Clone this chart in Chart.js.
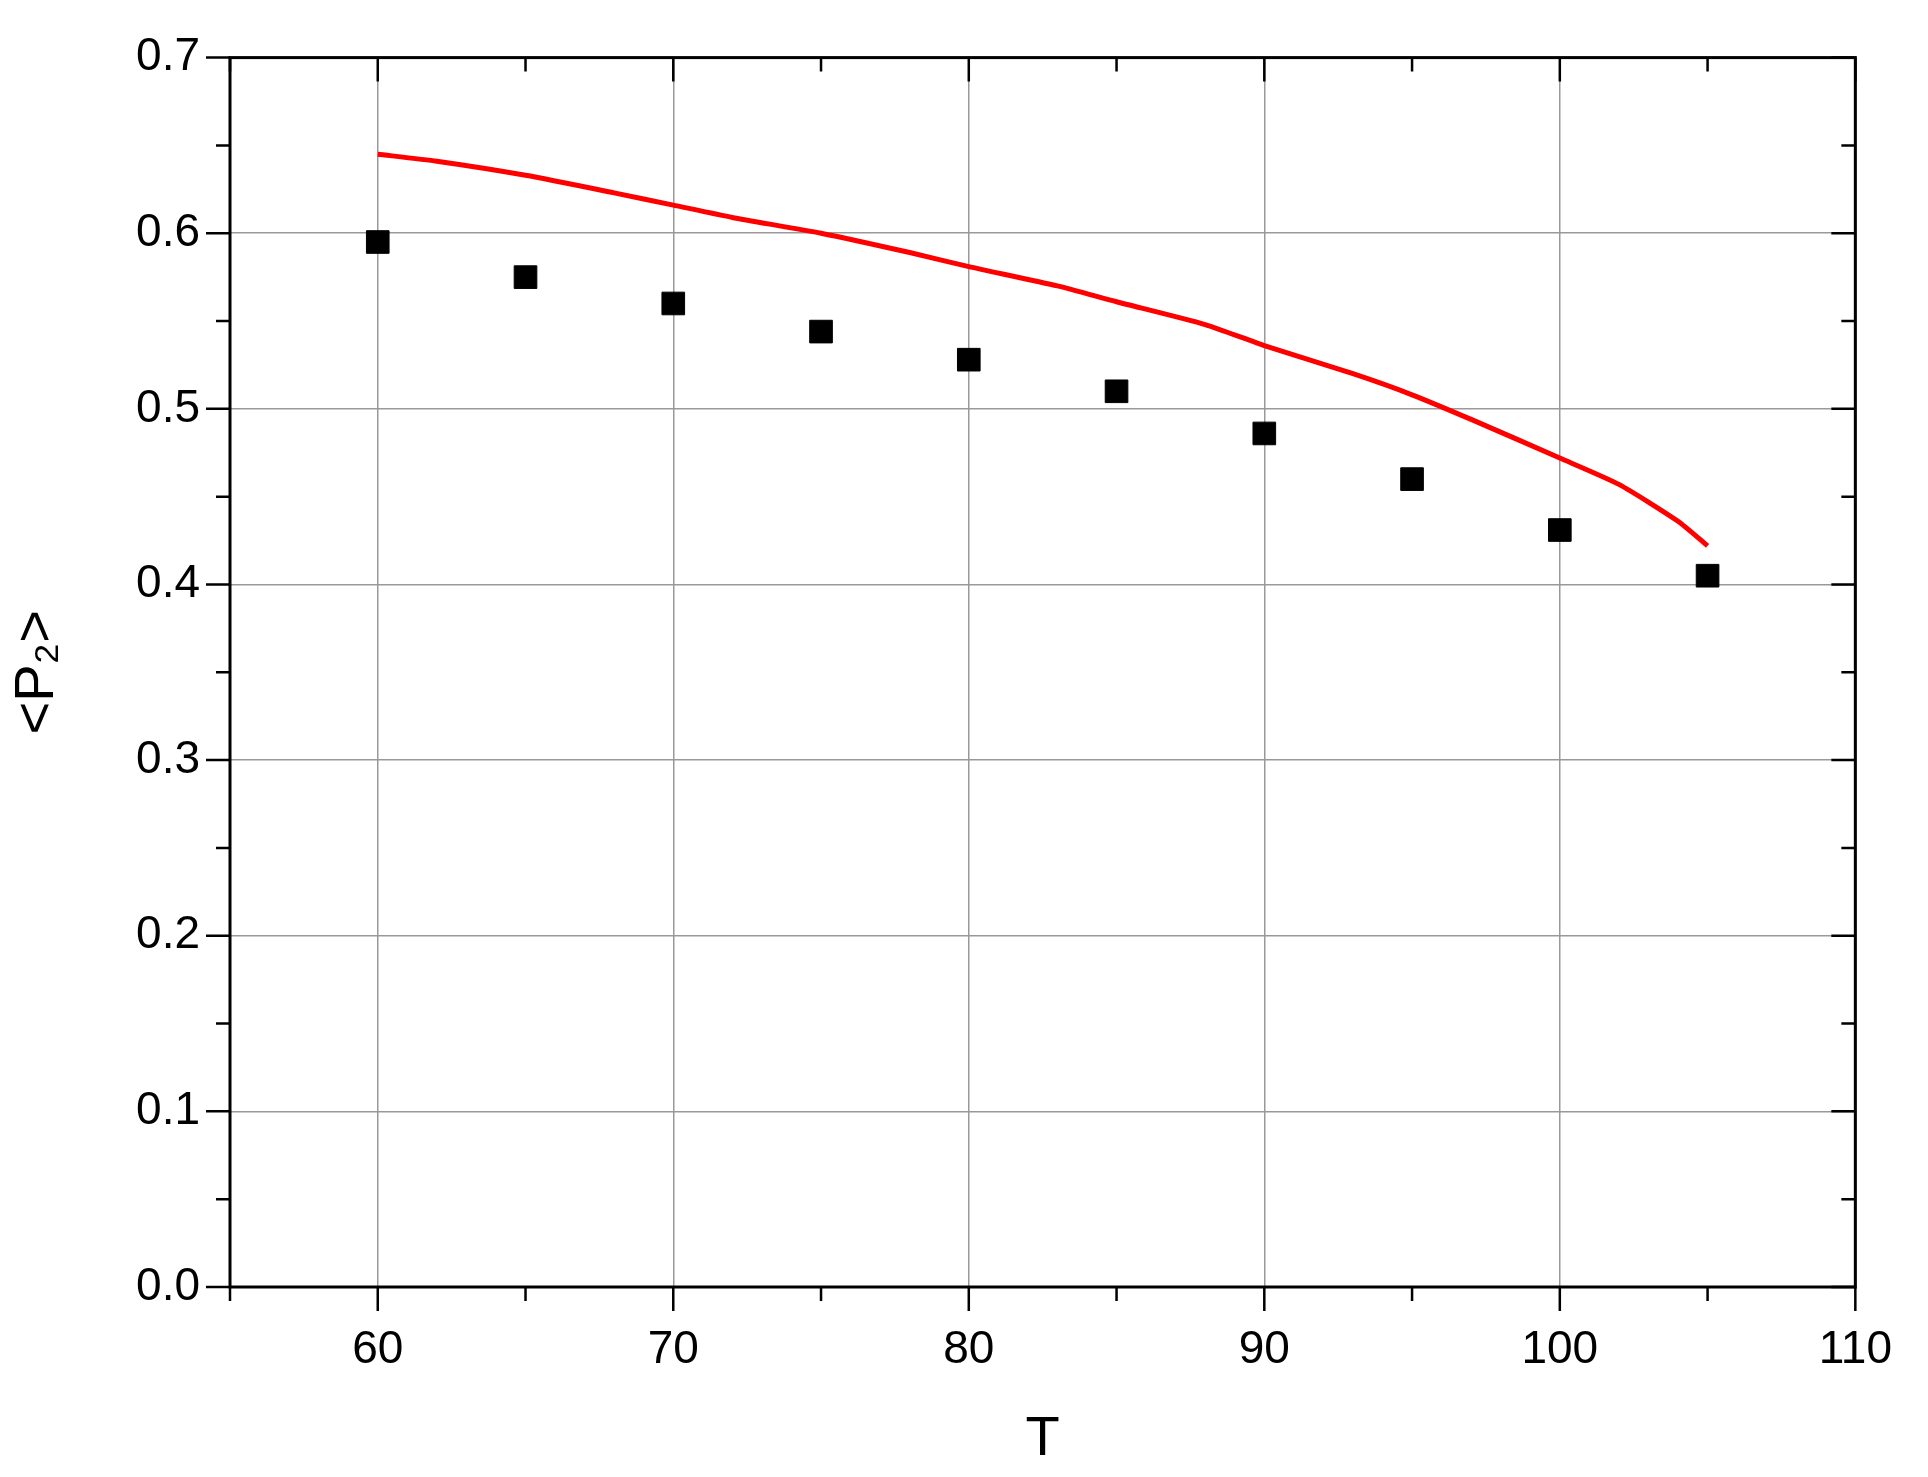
<!DOCTYPE html><html><head><style>body{margin:0;background:#fff}#w{width:1928px;height:1477px}</style>
<script src="https://cdn.jsdelivr.net/npm/chart.js@4"></script></head><body><div id="w"><canvas id="c"></canvas></div>
<script>
const sqT=[60,65,70,75,80,85,90,95,100,105];
const sqP=[0.595,0.575,0.560,0.544,0.528,0.510,0.486,0.460,0.431,0.405];
const lnT=[60,62,65,68,70,72,75,78,80,83,85,88,90,93,95,97,100,102,104,105];
const lnP=[0.645,0.641,0.633,0.623,0.616,0.609,0.600,0.589,0.581,0.570,0.561,0.548,0.536,0.520,0.508,0.494,0.472,0.457,0.436,0.422];
const xTicks=[60,70,80,90,100,110];
const yTicks=[0,0.1,0.2,0.3,0.4,0.5,0.6,0.7];
const F='"Liberation Sans", Arial, sans-serif';
const frame={id:'frame',afterDraw(ch){const c=ch.ctx,a=ch.chartArea,x=ch.scales.x,y=ch.scales.y;c.save();c.strokeStyle='#000';c.lineWidth=3;c.strokeRect(a.left,a.top,a.right-a.left,a.bottom-a.top);c.lineWidth=2.5;
for(let v=55;v<=110;v+=5){const p=x.getPixelForValue(v),L=(v%10===0)?24:14;c.beginPath();c.moveTo(p,a.bottom);c.lineTo(p,a.bottom+L);c.moveTo(p,a.top);c.lineTo(p,a.top+L);c.stroke();}
for(let i=0;i<=14;i++){const v=i*0.05,p=y.getPixelForValue(v),L=(i%2===0)?24:14;c.beginPath();c.moveTo(a.left,p);c.lineTo(a.left-L,p);c.moveTo(a.right,p);c.lineTo(a.right-L,p);c.stroke();}
c.restore();}};
new Chart(document.getElementById('c'),{type:'scatter',data:{datasets:[
{data:lnT.map((t,i)=>({x:t,y:lnP[i]})),showLine:true,borderColor:'#f00',borderWidth:5,pointRadius:0,tension:0.2},
{data:sqT.map((t,i)=>({x:t,y:sqP[i]})),pointStyle:'rect',pointRadius:16,backgroundColor:'#000',borderColor:'#000'}]},
options:{responsive:true,maintainAspectRatio:false,animation:false,layout:{padding:{top:27,right:44}},
plugins:{legend:{display:false},tooltip:{enabled:false}},
scales:{x:{type:'linear',min:55,max:110,afterBuildTicks(s){s.ticks=xTicks.map(v=>({value:v}))},afterFit(s){s.height=190},
grid:{color:'#999',lineWidth:1.5,drawTicks:false},border:{display:false},ticks:{padding:36,color:'#000',font:{family:F,size:46}},
title:{display:true,text:'T',color:'#000',font:{family:F,size:56},padding:{top:30}}},
y:{min:0,max:0.7,afterBuildTicks(s){s.ticks=yTicks.map(v=>({value:v}))},afterFit(s){s.width=230},
grid:{color:'#999',lineWidth:1.5,drawTicks:false},border:{display:false},ticks:{padding:30,color:'#000',font:{family:F,size:46},callback:v=>v.toFixed(1)},
title:{display:true,text:'<P₂>',color:'#000',font:{family:F,size:56},padding:{bottom:14}}}}},plugins:[frame]});
</script></body></html>
